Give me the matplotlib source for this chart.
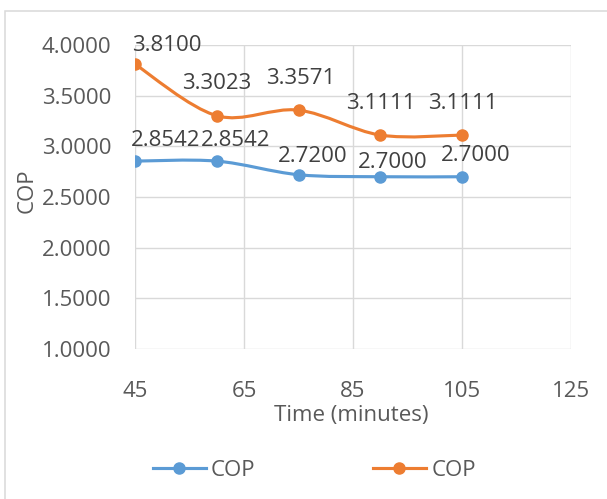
import matplotlib
matplotlib.use("Agg")
import matplotlib.pyplot as plt
from matplotlib.path import Path
from matplotlib.patches import PathPatch, Rectangle
from matplotlib.lines import Line2D
import numpy as np

plt.rcParams['font.family'] = ['Open Sans', 'DejaVu Sans']

time_min = [45, 60, 75, 90, 105]
cop_blue = [2.8542, 2.8542, 2.7200, 2.7000, 2.7000]
cop_orange = [3.8100, 3.3023, 3.3571, 3.1111, 3.1111]
blue_labels = ["2.8542", "2.8542", "2.7200", "2.7000", "2.7000"]
orange_labels = ["3.8100", "3.3023", "3.3571", "3.1111", "3.1111"]
series_names = ["COP", "COP"]
x_ticks = [45, 65, 85, 105, 125]
y_ticks = [1.0, 1.5, 2.0, 2.5, 3.0, 3.5, 4.0]

BLUE = "#5B9BD5"
ORANGE = "#ED7D31"
GRID = "#D9D9D9"
TXT = "#595959"
FS = 16.0

W, H = 607, 499
fig = plt.figure(figsize=(W / 100, H / 100), dpi=100)
ax = fig.add_axes([135 / W, 1 - 349 / H, (571 - 135) / W, (349 - 45) / H])


def smooth_path(xs, ys):
    pts = np.column_stack([xs, ys]).astype(float)
    n = len(pts)
    verts = [pts[0]]
    codes = [Path.MOVETO]
    for i in range(n - 1):
        p0 = pts[i - 1] if i > 0 else pts[i]
        p1 = pts[i]
        p2 = pts[i + 1]
        p3 = pts[i + 2] if i + 2 < n else pts[i + 1]
        c1 = p1 + (p2 - p0) / 6.0
        c2 = p2 - (p3 - p1) / 6.0
        verts += [c1, c2, p2]
        codes += [Path.CURVE4] * 3
    return Path(verts, codes)


for ys, col, labs, offs in [
    (cop_blue, BLUE, blue_labels,
     [(30.5, 21), (19, 21), (14, 18.5), (12.7, 14.7), (14, 21.7)]),
    (cop_orange, ORANGE, orange_labels,
     [(31.7, 19), (0, 32), (2, 32), (1, 31.5), (1, 31.5)]),
]:
    ax.add_patch(PathPatch(smooth_path(time_min, ys), fill=False,
                           edgecolor=col, lw=2.25, capstyle='round',
                           joinstyle='round', zorder=3))
    ax.plot(time_min, ys, 'o', color=col, ms=8, zorder=4)
    for xv, yv, lab, (dx, dy) in zip(time_min, ys, labs, offs):
        ax.annotate(lab, (xv, yv), xytext=(dx * 0.72, dy * 0.72),
                    textcoords='offset points', ha='center', va='center',
                    fontsize=FS, color="#404040", zorder=5,
                    annotation_clip=False)

ax.set_xlim(45, 125)
ax.set_ylim(1.0, 4.0)
ax.set_xticks(x_ticks)
ax.set_yticks(y_ticks)
ax.set_yticklabels([f"{v:.4f}" for v in y_ticks])
ax.grid(True, color=GRID, lw=1.0, zorder=0)
for s in ax.spines.values():
    s.set_visible(False)
ax.tick_params(axis='both', length=0, labelsize=FS, labelcolor=TXT)
ax.tick_params(axis='x', pad=23)
ax.tick_params(axis='y', pad=17)

fig.text(27 / W, 1 - 191 / H, "COP", rotation=90, ha='center', va='center',
         fontsize=FS, color=TXT)
fig.text(351 / W, 1 - 415 / H, "Time (minutes)", ha='center', va='center',
         fontsize=FS, color=TXT)

handles = [Line2D([], [], color=BLUE, lw=2.25, marker='o', ms=8),
           Line2D([], [], color=ORANGE, lw=2.25, marker='o', ms=8)]
leg = fig.legend(handles, series_names, loc='center',
                 bbox_to_anchor=(314.5 / W, 1 - 470 / H), ncol=2,
                 frameon=False, fontsize=FS, handlelength=2.35,
                 handletextpad=0.25, columnspacing=5.3)
for t in leg.get_texts():
    t.set_color(TXT)

fig.patches.append(Rectangle((5 / W, -0.1), 1.2, 1.1 - 10.5 / H,
                             transform=fig.transFigure, fill=False,
                             edgecolor=GRID, lw=1.1, clip_on=False))

fig.savefig("out.png", dpi=100, facecolor='white')
